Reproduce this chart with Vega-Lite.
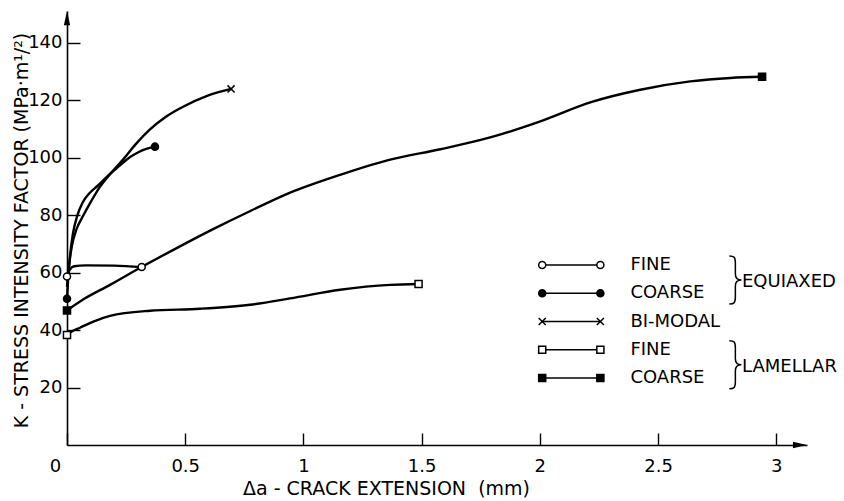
{
  "$schema": "https://vega.github.io/schema/vega-lite/v6.json",
  "width": 740,
  "height": 434,
  "autosize": {"type": "none"},
  "padding": {"left": 67, "top": 11, "right": 37, "bottom": 56},
  "background": "white",
  "config": {
    "view": {"stroke": null},
    "font": "DejaVu Sans",
    "axis": {
      "grid": false,
      "domainColor": "black",
      "domainWidth": 1.6,
      "tickColor": "black",
      "tickWidth": 1.4,
      "labelColor": "black",
      "titleColor": "black",
      "labelFont": "DejaVu Sans",
      "titleFont": "DejaVu Sans",
      "labelFontSize": 18,
      "titleFontSize": 19,
      "titleFontWeight": "normal"
    }
  },
  "datasets": {
    "curves": [
      {"series": "eqf", "x": 0, "y": 58.6},
      {"series": "eqf", "x": 0.012, "y": 61.0},
      {"series": "eqf", "x": 0.03, "y": 62.2},
      {"series": "eqf", "x": 0.08, "y": 62.5},
      {"series": "eqf", "x": 0.2, "y": 62.4},
      {"series": "eqf", "x": 0.316, "y": 61.9},
      {"series": "eqc", "x": 0, "y": 50.9},
      {"series": "eqc", "x": 0.005, "y": 58},
      {"series": "eqc", "x": 0.012, "y": 65},
      {"series": "eqc", "x": 0.025, "y": 73.5},
      {"series": "eqc", "x": 0.042, "y": 79.4},
      {"series": "eqc", "x": 0.065, "y": 84.2},
      {"series": "eqc", "x": 0.095, "y": 87.6},
      {"series": "eqc", "x": 0.13, "y": 90.2},
      {"series": "eqc", "x": 0.175, "y": 93.8},
      {"series": "eqc", "x": 0.22, "y": 97.0},
      {"series": "eqc", "x": 0.26, "y": 99.8},
      {"series": "eqc", "x": 0.296, "y": 101.6},
      {"series": "eqc", "x": 0.335, "y": 103.0},
      {"series": "eqc", "x": 0.372, "y": 103.8},
      {"series": "bm", "x": 0, "y": 55},
      {"series": "bm", "x": 0.008, "y": 62},
      {"series": "bm", "x": 0.02, "y": 69},
      {"series": "bm", "x": 0.04, "y": 75},
      {"series": "bm", "x": 0.07, "y": 80},
      {"series": "bm", "x": 0.1, "y": 84.5},
      {"series": "bm", "x": 0.14, "y": 89.9},
      {"series": "bm", "x": 0.19, "y": 95.0},
      {"series": "bm", "x": 0.237, "y": 99.3},
      {"series": "bm", "x": 0.29, "y": 104.6},
      {"series": "bm", "x": 0.351, "y": 109.8},
      {"series": "bm", "x": 0.42, "y": 114.3},
      {"series": "bm", "x": 0.491, "y": 117.7},
      {"series": "bm", "x": 0.59, "y": 121.4},
      {"series": "bm", "x": 0.694, "y": 123.9},
      {"series": "lmf", "x": 0, "y": 38.3},
      {"series": "lmf", "x": 0.02, "y": 39.5},
      {"series": "lmf", "x": 0.055, "y": 40.8},
      {"series": "lmf", "x": 0.12, "y": 43.2},
      {"series": "lmf", "x": 0.182, "y": 44.9},
      {"series": "lmf", "x": 0.351, "y": 46.7},
      {"series": "lmf", "x": 0.563, "y": 47.4},
      {"series": "lmf", "x": 0.774, "y": 48.8},
      {"series": "lmf", "x": 0.944, "y": 51.0},
      {"series": "lmf", "x": 1.155, "y": 54.0},
      {"series": "lmf", "x": 1.367, "y": 55.7},
      {"series": "lmf", "x": 1.487, "y": 56.0},
      {"series": "lmc", "x": 0, "y": 46.8},
      {"series": "lmc", "x": 0.068, "y": 50.6},
      {"series": "lmc", "x": 0.182, "y": 55.7},
      {"series": "lmc", "x": 0.317, "y": 62.0},
      {"series": "lmc", "x": 0.45, "y": 67.9},
      {"series": "lmc", "x": 0.618, "y": 75.1},
      {"series": "lmc", "x": 0.78, "y": 81.6},
      {"series": "lmc", "x": 0.944, "y": 87.8},
      {"series": "lmc", "x": 1.155, "y": 94.0},
      {"series": "lmc", "x": 1.367, "y": 99.3},
      {"series": "lmc", "x": 1.579, "y": 102.9},
      {"series": "lmc", "x": 1.79, "y": 107.0},
      {"series": "lmc", "x": 2.002, "y": 112.6},
      {"series": "lmc", "x": 2.213, "y": 119.2},
      {"series": "lmc", "x": 2.425, "y": 123.6},
      {"series": "lmc", "x": 2.636, "y": 126.5},
      {"series": "lmc", "x": 2.806, "y": 127.7},
      {"series": "lmc", "x": 2.94, "y": 128.1}
    ],
    "markers": [
      {"series": "eqf", "x": 0, "y": 58.6},
      {"series": "eqf", "x": 0.316, "y": 61.9},
      {"series": "eqc", "x": 0, "y": 50.9},
      {"series": "eqc", "x": 0.372, "y": 103.8},
      {"series": "bm", "x": 0.694, "y": 123.9},
      {"series": "lmf", "x": 0, "y": 38.3},
      {"series": "lmf", "x": 1.487, "y": 56.0},
      {"series": "lmc", "x": 0, "y": 46.8},
      {"series": "lmc", "x": 2.94, "y": 128.1}
    ],
    "legendRows": [
      {"series": "eqf", "label": "FINE"},
      {"series": "eqc", "label": "COARSE"},
      {"series": "bm", "label": "BI-MODAL"},
      {"series": "lmf", "label": "FINE"},
      {"series": "lmc", "label": "COARSE"}
    ],
    "legendGroups": [
      {"series": "eqf", "group": "EQUIAXED"},
      {"series": "lmf", "group": "LAMELLAR"}
    ]
  },
  "layer": [
    {
      "layer": [
        {
          "data": {"name": "curves"},
          "mark": {"type": "line", "interpolate": "monotone", "color": "black", "strokeWidth": 2.4},
          "encoding": {
            "x": {
              "field": "x", "type": "quantitative",
              "scale": {"domain": [0, 3.13], "nice": false, "zero": false},
              "axis": {
                "title": "Δa - CRACK EXTENSION\u00a0\u00a0(mm)",
                "values": [0, 0.5, 1, 1.5, 2, 2.5, 3],
                "format": "~g",
                "tickSize": -12,
                "labelPadding": 24,
                "labelFlush": false,
                "labelOffset": {"condition": {"test": "datum.value === 0", "value": -12}, "value": 0},
                "titleX": 319,
                "titleY": 49,
                "titleBaseline": "alphabetic",
                "titleAlign": "center"
              }
            },
            "y": {
              "field": "y", "type": "quantitative",
              "scale": {"domain": [0, 151], "nice": false, "zero": false},
              "axis": {
                "title": "K - STRESS INTENSITY FACTOR (MPa·m¹/²)",
                "values": [20, 40, 60, 80, 100, 120, 140],
                "format": "d",
                "tickSize": -13,
                "labelPadding": 18,
                "titleX": -40,
                "titleY": 219,
                "titleBaseline": "alphabetic",
                "titleAlign": "center"
              }
            },
            "detail": {"field": "series"}
          }
        },
        {
          "data": {"name": "markers"},
          "mark": {"type": "point", "filled": true, "stroke": "black", "strokeWidth": 1.5, "size": 50, "opacity": 1},
          "encoding": {
            "x": {"field": "x", "type": "quantitative"},
            "y": {"field": "y", "type": "quantitative"},
            "shape": {
              "field": "series", "type": "nominal",
              "scale": {"domain": ["eqf", "eqc", "bm", "lmf", "lmc"], "range": ["circle", "circle", "M-1,-1L1,1M1,-1L-1,1", "square", "square"]},
              "legend": null
            },
            "fill": {
              "field": "series", "type": "nominal",
              "scale": {"domain": ["eqf", "eqc", "bm", "lmf", "lmc"], "range": ["white", "black", "transparent", "white", "black"]},
              "legend": null
            }
          }
        },
        {
          "data": {"values": [{}]},
          "mark": {"type": "point", "shape": "M0,-1L0.45,1L-0.45,1Z", "filled": true, "color": "black", "size": 196, "opacity": 1},
          "encoding": {"x": {"datum": 0}, "y": {"datum": 148.5}}
        },
        {
          "data": {"values": [{}]},
          "mark": {"type": "point", "shape": "M1,0L-1,0.45L-1,-0.45Z", "filled": true, "color": "black", "size": 196, "opacity": 1},
          "encoding": {"x": {"datum": 3.1}, "y": {"datum": 0}}
        }
      ]
    },
    {
      "data": {"name": "legendRows"},
      "encoding": {
        "y": {
          "field": "series", "type": "nominal",
          "scale": {"type": "point", "domain": ["eqf", "eqc", "bm", "lmf", "lmc"], "range": [254, 367], "padding": 0},
          "axis": null
        }
      },
      "layer": [
        {
          "mark": {"type": "rule", "color": "black", "strokeWidth": 1.5},
          "encoding": {"x": {"datum": 2.01}, "x2": {"datum": 2.256}}
        },
        {
          "mark": {"type": "point", "filled": true, "stroke": "black", "strokeWidth": 1.5, "size": 50, "opacity": 1},
          "encoding": {
            "x": {"datum": 2.01},
            "shape": {"field": "series", "type": "nominal", "legend": null},
            "fill": {"field": "series", "type": "nominal", "legend": null}
          }
        },
        {
          "mark": {"type": "point", "filled": true, "stroke": "black", "strokeWidth": 1.5, "size": 50, "opacity": 1},
          "encoding": {
            "x": {"datum": 2.256},
            "shape": {"field": "series", "type": "nominal", "legend": null},
            "fill": {"field": "series", "type": "nominal", "legend": null}
          }
        },
        {
          "mark": {"type": "text", "align": "left", "baseline": "middle", "fontSize": 18, "color": "black", "font": "DejaVu Sans"},
          "encoding": {"x": {"datum": 2.383}, "text": {"field": "label"}}
        },
        {
          "data": {"name": "legendGroups"},
          "mark": {"type": "point", "shape": "M-0.25,-1C-0.05,-1 0,-0.95 0,-0.7L0,-0.25C0,-0.07 0.08,0 0.25,0C0.08,0 0,0.07 0,0.25L0,0.7C0,0.95 -0.05,1 -0.25,1", "filled": false, "stroke": "black", "strokeWidth": 1.5, "size": 2304, "yOffset": 15, "opacity": 1},
          "encoding": {"x": {"datum": 2.827}}
        },
        {
          "data": {"name": "legendGroups"},
          "mark": {"type": "text", "align": "left", "baseline": "middle", "fontSize": 18, "color": "black", "font": "DejaVu Sans", "dy": 17},
          "encoding": {"x": {"datum": 2.855}, "text": {"field": "group"}}
        }
      ]
    }
  ],
  "resolve": {"scale": {"y": "independent"}}
}
